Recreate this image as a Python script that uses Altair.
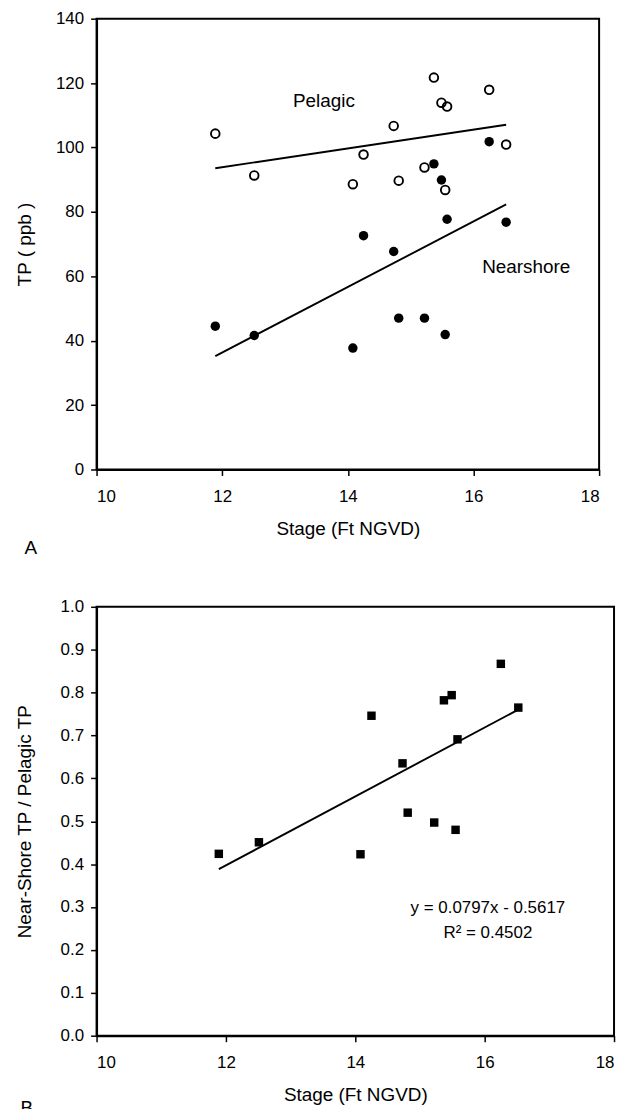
import altair as alt
import pandas as pd

# ---- data ----
stage = [11.89, 12.51, 14.08, 14.25, 14.73, 14.81, 15.22, 15.37, 15.49, 15.58, 15.55, 16.25, 16.52]
pelagic = [104.3, 91.3, 88.6, 97.8, 106.7, 89.7, 93.8, 121.7, 113.9, 112.7, 86.8, 117.9, 100.9]
nearshore = [44.5, 41.6, 37.7, 72.6, 67.7, 47.0, 47.0, 94.9, 89.9, 77.7, 41.9, 101.8, 76.8]
ratio = [0.424, 0.451, 0.423, 0.746, 0.635, 0.520, 0.497, 0.782, 0.794, 0.691, 0.480, 0.867, 0.765]

series_labels = ["Pelagic", "Nearshore"]
series_label_x = [13.62, 16.84]
series_label_y = [114.3, 62.9]

eq_lines = ["y = 0.0797x - 0.5617", "R² = 0.4502"]
eq_x = [16.05, 16.05]
eq_y = [0.298, 0.240]

FONT = "Liberation Sans"

top_df = pd.DataFrame({
    "stage": stage * 2,
    "tp": pelagic + nearshore,
    "series": ["Pelagic"] * len(stage) + ["Nearshore"] * len(stage),
})
lab_df = pd.DataFrame({"label": series_labels, "x": series_label_x, "y": series_label_y})
bot_df = pd.DataFrame({"stage": stage, "ratio": ratio})
eq_df = pd.DataFrame({"label": eq_lines, "x": eq_x, "y": eq_y})

W1, H1 = 505, 453
W2, H2 = 520, 431

xscale = alt.Scale(domain=[10, 18], nice=False, zero=False)
xaxis = alt.Axis(values=[10, 12, 14, 16, 18], title="Stage (Ft NGVD)", format="d")

base_top = alt.Chart(top_df)
x_top = alt.X("stage:Q", scale=xscale, axis=xaxis)
y_top = alt.Y("tp:Q", scale=alt.Scale(domain=[0, 140], nice=False),
              axis=alt.Axis(values=list(range(0, 141, 20)), title="TP ( ppb )"))

pel_pts = base_top.transform_filter(alt.datum.series == "Pelagic").mark_point(
    shape="circle", filled=False, stroke="black", strokeWidth=1.9, size=75, opacity=1
).encode(x=x_top, y=y_top)
near_pts = base_top.transform_filter(alt.datum.series == "Nearshore").mark_circle(
    color="black", size=90, opacity=1
).encode(x=x_top, y=y_top)
reg_top = base_top.transform_regression("stage", "tp", groupby=["series"]).mark_line(
    color="black", strokeWidth=1.9
).encode(x=alt.X("stage:Q", scale=xscale), y=alt.Y("tp:Q"), detail="series:N")
labels_top = alt.Chart(lab_df).mark_text(
    font=FONT, fontSize=19, color="black", align="center", baseline="middle"
).encode(x=alt.X("x:Q", scale=xscale), y=alt.Y("y:Q"), text="label:N")
tag_a = alt.Chart(pd.DataFrame({"t": ["A"]})).mark_text(
    font=FONT, fontSize=19, color="black", align="center", baseline="middle"
).encode(x=alt.value(-66), y=alt.value(H1 + 79), text="t:N")

top = alt.layer(pel_pts, near_pts, reg_top, labels_top, tag_a).properties(width=W1, height=H1)

base_bot = alt.Chart(bot_df)
x_bot = alt.X("stage:Q", scale=xscale, axis=xaxis)
y_bot = alt.Y("ratio:Q", scale=alt.Scale(domain=[0, 1], nice=False),
              axis=alt.Axis(values=[i / 10 for i in range(11)], format=".1f",
                            title="Near-Shore TP / Pelagic TP"))
bot_pts = base_bot.mark_square(color="black", size=72, opacity=1).encode(x=x_bot, y=y_bot)
reg_bot = base_bot.transform_regression("stage", "ratio").mark_line(
    color="black", strokeWidth=1.9
).encode(x=alt.X("stage:Q", scale=xscale), y=alt.Y("ratio:Q"))
eq_text = alt.Chart(eq_df).mark_text(
    font=FONT, fontSize=17, color="black", align="center", baseline="middle"
).encode(x=alt.X("x:Q", scale=xscale), y=alt.Y("y:Q"), text="label:N")
tag_b = alt.Chart(pd.DataFrame({"t": ["B"]})).mark_text(
    font=FONT, fontSize=19, color="black", align="center", baseline="middle"
).encode(x=alt.value(-70), y=alt.value(H2 + 73), text="t:N")

bottom = alt.layer(bot_pts, reg_bot, eq_text, tag_b).properties(width=W2, height=H2)

chart = alt.vconcat(top, bottom, spacing=38).properties(
    padding={"left": 7, "top": -2, "right": 5, "bottom": 0},
    background="white",
).configure_view(
    stroke="black", strokeWidth=2
).configure_axis(
    labelFont=FONT, labelFontSize=17, labelColor="black",
    titleFont=FONT, titleFontSize=19, titleFontWeight="normal", titleColor="black",
    domainColor="black", domainWidth=2, tickColor="black", tickWidth=1.5, tickSize=6,
    grid=False, labelPadding=7,
).configure_axisY(
    titlePadding=20, minExtent=42, maxExtent=42,
).configure_axisX(
    titlePadding=15, labelPadding=13,
)

chart.save("out.html", embed_options={"renderer": "svg", "actions": False})
